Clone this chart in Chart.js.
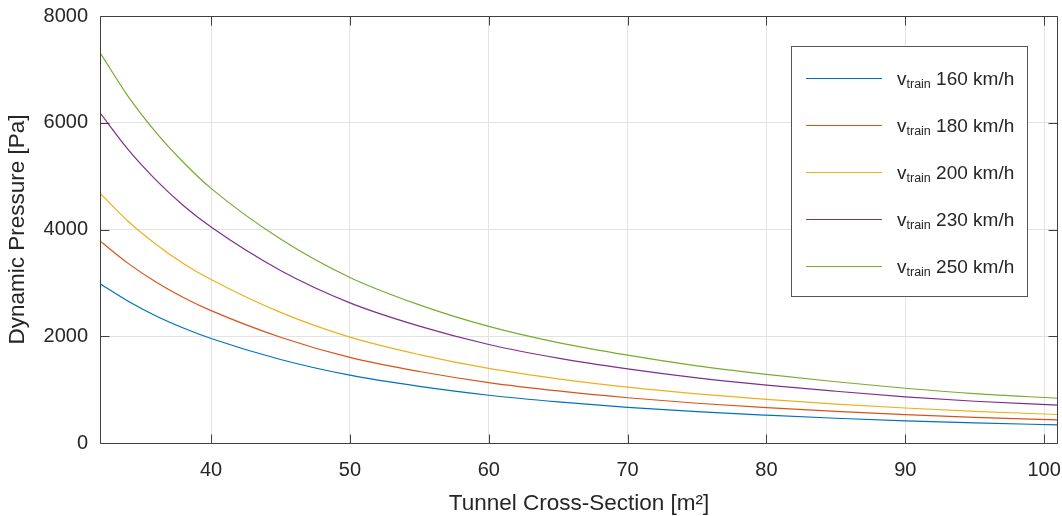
<!DOCTYPE html>
<html>
<head>
<meta charset="utf-8">
<script src="https://cdn.jsdelivr.net/npm/chart.js@4/dist/chart.umd.min.js"></script>
<style>
html,body{margin:0;padding:0;background:#fff;overflow:hidden}
canvas{display:block}
</style>
</head>
<body>
<canvas id="c" width="1062" height="516"></canvas>
<script>
// ---- data ----
const crossSection = [32, 34, 36, 38, 40, 45, 50, 55, 60, 65, 70, 75, 80, 85, 90, 95, 101];
const p160 = [2985, 2660, 2385, 2155, 1958, 1565, 1270, 1060, 895, 770, 668, 586, 521, 464, 416, 376, 340];
const p180 = [3785, 3370, 3020, 2725, 2480, 1982, 1603, 1340, 1132, 975, 848, 745, 662, 592, 531, 481, 434];
const p200 = [4680, 4160, 3730, 3365, 3062, 2447, 1983, 1656, 1397, 1203, 1047, 920, 816, 729, 656, 592, 534];
const p230 = [6185, 5505, 4935, 4450, 4045, 3232, 2626, 2190, 1846, 1590, 1388, 1220, 1084, 970, 866, 782, 710];
const p250 = [7315, 6505, 5830, 5260, 4770, 3822, 3102, 2588, 2184, 1880, 1645, 1445, 1286, 1148, 1026, 926, 838];
const seriesSpeeds = ['160 km/h', '180 km/h', '200 km/h', '230 km/h', '250 km/h'];
const xTickValues = [40, 50, 60, 70, 80, 90, 100];
const yTickValues = [0, 2000, 4000, 6000, 8000];
const xRange = [32, 101];
const yRange = [0, 8000];

const colors = ['#0072BD', '#D95319', '#EDB120', '#7E2F8E', '#77AC30'];
const allSeries = [p160, p180, p200, p230, p250];
const FONT = '"Liberation Sans", Arial, Helvetica, sans-serif';
const TEXT = '#262626';

const datasets = allSeries.map((vals, i) => ({
  label: 'v_train ' + seriesSpeeds[i],
  data: crossSection.map((x, j) => ({x: x, y: vals[j]})),
  borderColor: colors[i],
  backgroundColor: colors[i],
  borderWidth: 1.2,
  pointRadius: 0,
  fill: false,
  cubicInterpolationMode: 'monotone'
}));

const framePlugin = {
  id: 'frame',
  afterDraw(chart) {
    const {ctx, chartArea: a, scales: {x, y}} = chart;
    ctx.save();
    const L = a.left + 0.5, R = a.right - 0.5, T = a.top + 0.5, B = a.bottom + 0.5;
    ctx.strokeStyle = '#404040';
    ctx.lineWidth = 1;
    ctx.beginPath();
    ctx.rect(L, T, R - L, B - T);
    ctx.stroke();
    const tl = 9;
    ctx.beginPath();
    xTickValues.forEach(v => {
      const px = Math.round(x.getPixelForValue(v)) + 0.5;
      ctx.moveTo(px, B); ctx.lineTo(px, B - tl);
      ctx.moveTo(px, T); ctx.lineTo(px, T + tl);
    });
    yTickValues.forEach(v => {
      const py = Math.round(y.getPixelForValue(v)) + 0.5;
      ctx.moveTo(L, py); ctx.lineTo(L + tl, py);
      ctx.moveTo(R, py); ctx.lineTo(R - tl, py);
    });
    ctx.stroke();

    // legend
    const bx = 791.5, by = 46.5, bw = 236, bh = 250;
    ctx.fillStyle = '#ffffff';
    ctx.fillRect(bx, by, bw, bh);
    ctx.strokeStyle = '#555555';
    ctx.strokeRect(bx, by, bw, bh);
    const rowY0 = 77.7, rowStep = 47;
    seriesSpeeds.forEach((s, i) => {
      const ry = rowY0 + i * rowStep;
      ctx.strokeStyle = colors[i];
      ctx.lineWidth = 1.2;
      ctx.beginPath();
      ctx.moveTo(806, Math.round(ry) + 0.5);
      ctx.lineTo(882, Math.round(ry) + 0.5);
      ctx.stroke();
      ctx.fillStyle = TEXT;
      ctx.textAlign = 'left';
      ctx.textBaseline = 'alphabetic';
      let tx = 897;
      ctx.font = '19px ' + FONT;
      ctx.fillText('v', tx, ry + 6.8);
      tx += ctx.measureText('v').width;
      ctx.font = '12.5px ' + FONT;
      ctx.fillText('train', tx, ry + 9.8);
      tx += ctx.measureText('train').width;
      ctx.font = '19px ' + FONT;
      ctx.fillText(' ' + s, tx, ry + 6.8);
    });
    ctx.restore();
  }
};

new Chart(document.getElementById('c'), {
  type: 'line',
  data: {datasets},
  options: {
    responsive: false,
    animation: false,
    events: [],
    layout: {padding: {left: 0, right: 4, top: 16, bottom: 0}},
    plugins: {legend: {display: false}, tooltip: {enabled: false}},
    scales: {
      x: {
        type: 'linear',
        min: xRange[0], max: xRange[1],
        afterBuildTicks: s => { s.ticks = xTickValues.map(v => ({value: v})); },
        afterFit: s => { s.height = 73; s.paddingLeft = 0; s.paddingRight = 0; },
        grid: {color: '#e3e3e3', lineWidth: 1, drawTicks: false},
        border: {display: false},
        ticks: {color: TEXT, padding: 17, maxRotation: 0, autoSkip: false,
                font: {family: FONT, size: 20, lineHeight: 1}},
        title: {display: true, text: 'Tunnel Cross-Section [m²]', color: TEXT,
                font: {family: FONT, size: 22.5, lineHeight: 1}, padding: {top: 0, bottom: 0.5}}
      },
      y: {
        type: 'linear',
        min: yRange[0], max: yRange[1],
        afterBuildTicks: s => { s.ticks = yTickValues.map(v => ({value: v})); },
        afterFit: s => { s.width = 100; s.paddingTop = 0; s.paddingBottom = 0; },
        grid: {color: '#e3e3e3', lineWidth: 1, drawTicks: false},
        border: {display: false},
        ticks: {color: TEXT, padding: 12, autoSkip: false,
                font: {family: FONT, size: 20, lineHeight: 1},
                callback: v => String(v)},
        title: {display: true, text: 'Dynamic Pressure [Pa]', color: TEXT,
                font: {family: FONT, size: 22.5, lineHeight: 1}, padding: {top: 7, bottom: 0}}
      }
    }
  },
  plugins: [framePlugin]
});
</script>
</body>
</html>
